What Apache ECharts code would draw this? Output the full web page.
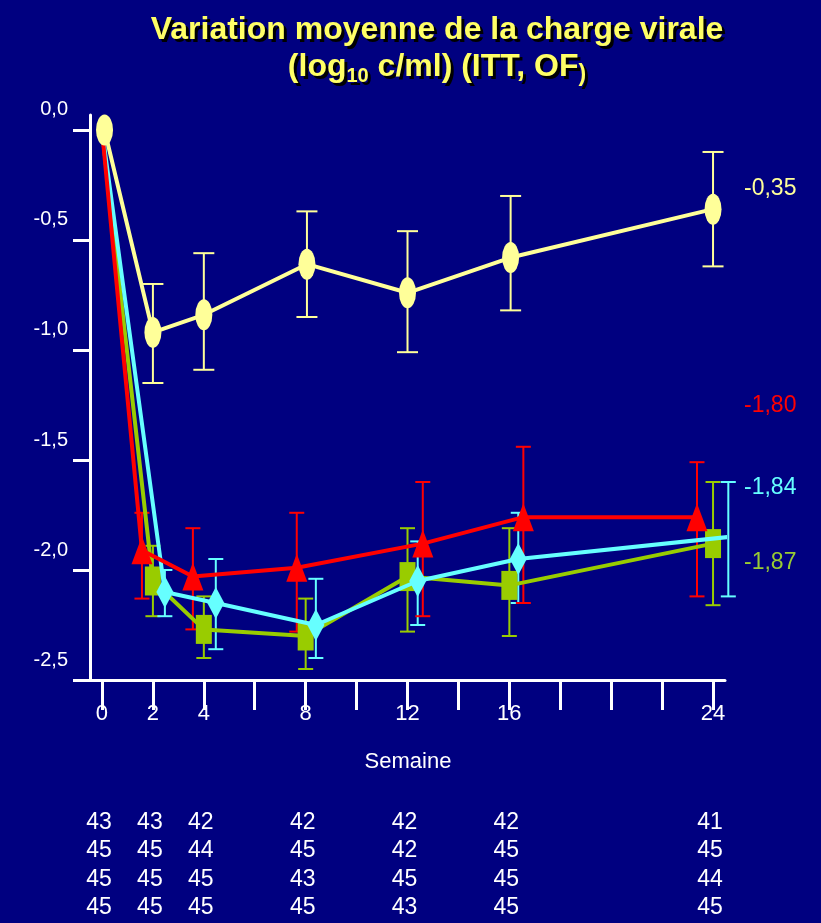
<!DOCTYPE html>
<html>
<head>
<meta charset="utf-8">
<script src="https://cdn.jsdelivr.net/npm/echarts@6/dist/echarts.min.js"></script>
<style>
  html, body { margin: 0; padding: 0; background: #000080; }
  #chart { width: 821px; height: 923px; }
</style>
</head>
<body>
<div id="chart"></div>
<script>
// ---------------- DATA ----------------
const weeks = [0, 2, 4, 8, 12, 16, 24];
const xTickWeeks = [0, 2, 4, 6, 8, 10, 12, 14, 16, 18, 20, 22, 24];
const xLabelWeeks = [0, 2, 4, 8, 12, 16, 24];
const yTickValues = [-2.5, -2.0, -1.5, -1.0, -0.5, 0.0];

const yellowMean = [0, -0.92, -0.84, -0.61, -0.74, -0.58, -0.36];
const yellowLow  = [null, -1.15, -1.09, -0.85, -1.01, -0.82, -0.62];
const yellowHigh = [null, -0.70, -0.56, -0.37, -0.46, -0.30, -0.10];

const redMean = [0, -1.91, -2.03, -1.99, -1.88, -1.76, -1.76];
const redLow  = [null, -2.13, -2.27, -2.28, -2.21, -2.15, -2.12];
const redHigh = [null, -1.74, -1.81, -1.74, -1.60, -1.44, -1.51];

const greenMean = [0, -2.05, -2.27, -2.30, -2.03, -2.07, -1.88];
const greenLow  = [null, -2.21, -2.40, -2.45, -2.28, -2.30, -2.16];
const greenHigh = [null, -1.89, -2.12, -2.13, -1.81, -1.81, -1.60];

const cyanMean = [0, -2.10, -2.15, -2.25, -2.05, -1.95, -1.85];
const cyanLow  = [null, -2.21, -2.36, -2.40, -2.25, -2.15, -2.12];
const cyanHigh = [null, -2.00, -1.95, -2.04, -1.87, -1.74, -1.60];

const finalLabels = { yellow: '-0,35', red: '-1,80', cyan: '-1,84', green: '-1,87' };

const nRow1 = [43, 43, 42, 42, 42, 42, 41];
const nRow2 = [45, 45, 44, 45, 42, 45, 45];
const nRow3 = [45, 45, 45, 43, 45, 45, 44];
const nRow4 = [45, 45, 45, 45, 43, 45, 45];

const titleLine1 = 'Variation moyenne de la charge virale';
const titleLine2a = '(log';
const titleSub = '10';
const titleLine2b = ' c/ml) (ITT, OF';
const xAxisTitle = 'Semaine';

// ---------------- STYLE ----------------
const FONT = 'Liberation Sans, Arial, sans-serif';
const BG = '#000080';
const C = { yellow: '#FFFF99', red: '#FF0000', green: '#99CC00', cyan: '#66FFFF', title: '#FFFF66', greenText: '#99CC33' };
// horizontal dodge of each series' markers, in weeks
const dodge = {
  yellow: [0.1, 0, 0, 0.05, 0, 0.05, 0],
  red:    [0, -0.43, -0.43, -0.35, 0.6, 0.55, -0.63],
  green:  [0, 0, 0, 0, 0, 0, 0],
  cyan:   [0, 0.47, 0.47, 0.4, 0.4, 0.35, 0.6]
};
const ellipsePath = 'path://M0,10 A10,10 0 1,1 20,10 A10,10 0 1,1 0,10 Z';
const labelPos = { x: 744, y: { yellow: 189, red: 406, cyan: 488, green: 563 } };
const tableRowsY = [823, 851, 880, 908];

const chart = echarts.init(document.getElementById('chart'), null, { renderer: 'canvas' });

function lineSeries(name, mean, color, symbol, size, z) {
  const d = dodge[name];
  return {
    type: 'line', name, z,
    data: weeks.map((w, i) => i === 0 && name !== 'yellow'
      ? { value: [w + d[i], mean[i]], symbol: 'none' }
      : [w + d[i], mean[i]]),
    symbol, symbolSize: size, showAllSymbol: true,
    lineStyle: { color, width: 4 },
    itemStyle: { color, opacity: 1 },
    emphasis: { disabled: true },
    animation: false
  };
}
function errSeries(name, low, high, color, capW, z) {
  const d = dodge[name];
  const data = [];
  weeks.forEach((w, i) => { if (low[i] != null) data.push([w + d[i], low[i], high[i]]); });
  return {
    type: 'custom', name: name + '-err', z,
    data,
    encode: { x: 0, y: [1, 2] },
    renderItem: function (params, api) {
      const x = api.value(0);
      const p1 = api.coord([x, api.value(2)]);
      const p2 = api.coord([x, api.value(1)]);
      const hw = capW / 2;
      const st = { stroke: color, lineWidth: 2 };
      return {
        type: 'group',
        children: [
          { type: 'line', shape: { x1: p1[0], y1: p1[1], x2: p2[0], y2: p2[1] }, style: st },
          { type: 'line', shape: { x1: p1[0] - hw, y1: p1[1], x2: p1[0] + hw, y2: p1[1] }, style: st },
          { type: 'line', shape: { x1: p2[0] - hw, y1: p2[1], x2: p2[0] + hw, y2: p2[1] }, style: st }
        ]
      };
    },
    animation: false
  };
}

function titleRich(color) {
  return {
    t: { color, fontSize: 32, fontWeight: 'bold', fontFamily: FONT, lineHeight: 37 },
    s: { color, fontSize: 20, fontWeight: 'bold', fontFamily: FONT, lineHeight: 22, verticalAlign: 'bottom' },
    p: { color, fontSize: 23, fontWeight: 'bold', fontFamily: FONT, lineHeight: 30, verticalAlign: 'bottom' }
  };
}
const titleText = '{t|' + titleLine1 + '}\n{t|' + titleLine2a + '}{s|' + titleSub + '}{t|' + titleLine2b + '}{p|)}';

const option = {
  backgroundColor: BG,
  animation: false,
  title: [
    { text: titleText, left: 435, top: 10, textAlign: 'center', textStyle: { rich: titleRich('#000000') }, z: 1 },
    { text: titleText, left: 432, top: 7, textAlign: 'center', textStyle: { rich: titleRich(C.title) }, z: 2 }
  ],
  grid: { left: 75, right: 96, top: 115, bottom: 243, containLabel: false },
  xAxis: {
    type: 'value', min: -1.06, max: 24.47,
    name: xAxisTitle, nameLocation: 'middle', nameGap: 71,
    nameTextStyle: { color: '#FFFFFF', fontSize: 22, fontFamily: FONT, padding: [0, 0, 0, 16] },
    axisLine: { show: true, onZero: false, lineStyle: { color: '#FFFFFF', width: 3 } },
    axisTick: { show: true, inside: false, length: 30, customValues: xTickWeeks, lineStyle: { color: '#FFFFFF', width: 3 } },
    axisLabel: { show: true, customValues: xLabelWeeks, margin: 23, color: '#FFFFFF', fontSize: 22, fontFamily: FONT },
    splitLine: { show: false }
  },
  yAxis: {
    type: 'value', min: -2.5, max: 0.068, offset: -15,
    axisLine: { show: true, onZero: false, lineStyle: { color: '#FFFFFF', width: 3 } },
    axisTick: { show: true, inside: false, length: 17, customValues: yTickValues, lineStyle: { color: '#FFFFFF', width: 3 } },
    axisLabel: {
      show: true, customValues: yTickValues, margin: 22, color: '#FFFFFF', fontSize: 20, fontFamily: FONT,
      verticalAlign: 'bottom', lineHeight: 40,
      formatter: v => v.toFixed(1).replace('.', ',')
    },
    splitLine: { show: false }
  },
  series: [
    errSeries('yellow', yellowLow, yellowHigh, C.yellow, 21, 2),
    errSeries('green', greenLow, greenHigh, C.green, 15, 3),
    errSeries('cyan', cyanLow, cyanHigh, C.cyan, 15, 4),
    errSeries('red', redLow, redHigh, C.red, 15, 5),
    lineSeries('green', greenMean, C.green, 'rect', [16, 29], 6),
    lineSeries('cyan', cyanMean, C.cyan, 'diamond', [17, 32], 7),
    lineSeries('red', redMean, C.red, 'triangle', [21, 28], 8),
    lineSeries('yellow', yellowMean, C.yellow, ellipsePath, [17, 31], 9)
  ]
};
chart.setOption(option);

// annotations and N table positioned via the axis scale
const graphics = [];
[['yellow', C.yellow], ['red', C.red], ['cyan', C.cyan], ['green', C.greenText]].forEach(([k, col]) => {
  graphics.push({ type: 'text', x: labelPos.x, y: labelPos.y[k],
    style: { text: finalLabels[k], fill: col, font: '23px ' + FONT, textAlign: 'left', textVerticalAlign: 'middle' } });
});
[nRow1, nRow2, nRow3, nRow4].forEach((row, r) => {
  row.forEach((n, i) => {
    const px = chart.convertToPixel({ xAxisIndex: 0 }, weeks[i]) - 3;
    graphics.push({ type: 'text', x: px, y: tableRowsY[r],
      style: { text: String(n), fill: '#FFFFFF', font: '23px ' + FONT, textAlign: 'center', textVerticalAlign: 'middle' } });
  });
});
chart.setOption({ graphic: graphics });
</script>
</body>
</html>
